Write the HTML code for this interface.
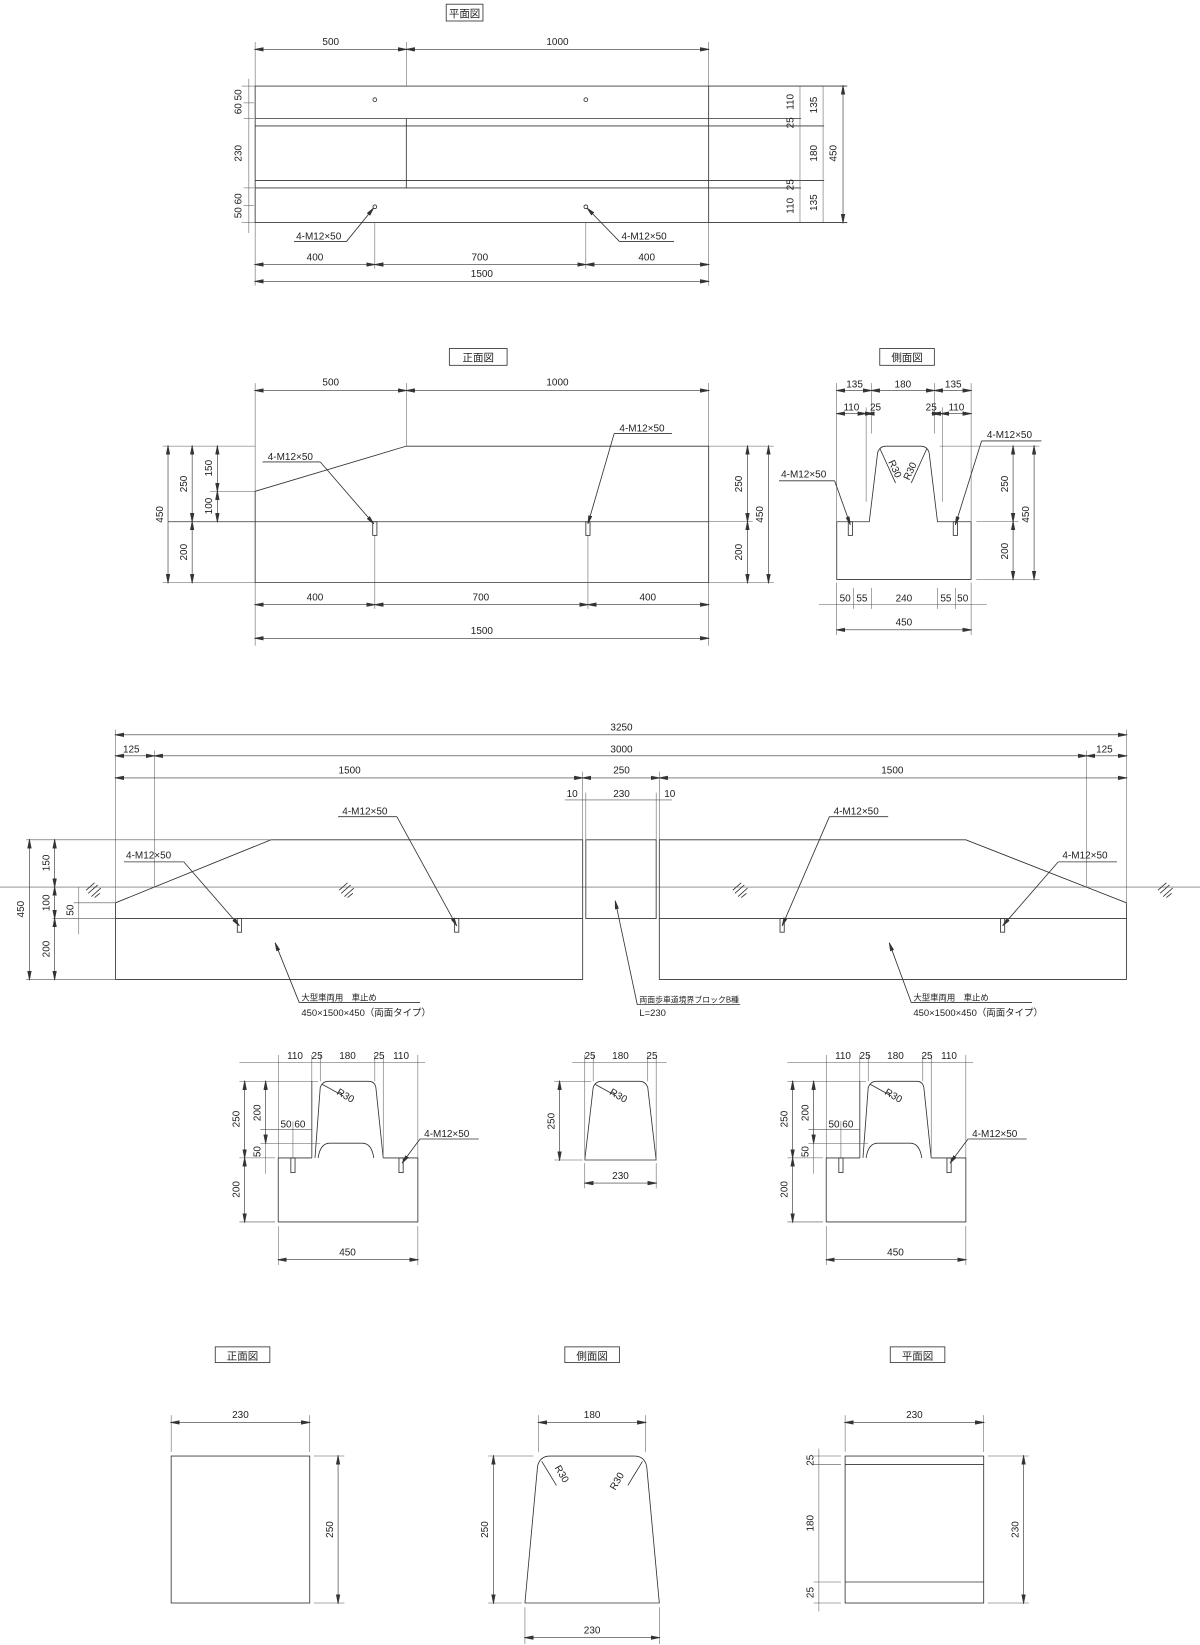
<!DOCTYPE html>
<html><head><meta charset="utf-8"><style>
html,body{margin:0;padding:0;background:#fff}
svg{display:block}
text{font-family:"Liberation Sans","Noto Sans CJK JP",sans-serif;font-size:9.5px;fill:#222}
.t{font-size:10px}
line,path,rect,polyline,circle{stroke:#333;stroke-width:0.8;fill:none}
.d{marker-start:url(#a);marker-end:url(#a);stroke-width:0.6}
.e{stroke-width:0.5;stroke:#555}
</style></head><body>
<svg width="1200" height="1645" viewBox="0 0 1143 1567" xmlns="http://www.w3.org/2000/svg">
<defs><marker id="a" viewBox="0 0 10 10" refX="9" refY="5" markerWidth="9" markerHeight="9" markerUnits="userSpaceOnUse" orient="auto-start-reverse"><path d="M0,3 L10,5 L0,7 Z" style="fill:#333;stroke:#333;stroke-width:0.5"/></marker>
<marker id="p" viewBox="0 0 10 10" refX="10" refY="5" markerWidth="8" markerHeight="8" markerUnits="userSpaceOnUse" orient="auto"><path d="M0,3 L10,5 L0,7 Z" style="fill:#333;stroke:#333"/></marker></defs>

<!-- ===== PLAN VIEW ===== -->
<rect x="425" y="4" width="35" height="16"/><text x="442.5" y="16" text-anchor="middle" class="t">平面図</text>
<rect x="243" y="82" width="432" height="130"/>
<line x1="675" y1="82" x2="807" y2="82"/><line x1="675" y1="212" x2="807" y2="212"/>
<line x1="243" y1="113" x2="763" y2="113"/><line x1="243" y1="120" x2="785" y2="120"/>
<line x1="243" y1="172" x2="785" y2="172"/><line x1="243" y1="179" x2="763" y2="179"/>
<line x1="387" y1="113" x2="387" y2="179"/>
<line class="e" x1="243" y1="40" x2="243" y2="82"/><line class="e" x1="387" y1="40" x2="387" y2="82"/><line class="e" x1="675" y1="40" x2="675" y2="82"/>
<line class="d" x1="243" y1="47" x2="387" y2="47"/><line class="d" x1="387" y1="47" x2="675" y2="47"/>
<text x="315" y="43" text-anchor="middle">500</text><text x="531" y="43" text-anchor="middle">1000</text>
<circle cx="357" cy="95" r="1.8"/><circle cx="558" cy="95" r="1.8"/><circle cx="357" cy="197" r="1.8"/><circle cx="558" cy="197" r="1.8"/>
<line x1="280" y1="230" x2="330" y2="230"/><line x1="330" y1="230" x2="356" y2="198" style="marker-end:url(#p)"/><text x="282" y="228">4-M12×50</text>
<line x1="590" y1="230" x2="642" y2="230"/><line x1="590" y1="230" x2="559" y2="198" style="marker-end:url(#p)"/><text x="592" y="228">4-M12×50</text>
<line class="e" x1="243" y1="212" x2="243" y2="272"/><line class="e" x1="357" y1="212" x2="357" y2="256"/><line class="e" x1="558" y1="212" x2="558" y2="256"/><line class="e" x1="675" y1="212" x2="675" y2="272"/>
<line class="d" x1="243" y1="252" x2="357" y2="252"/><line class="d" x1="357" y1="252" x2="558" y2="252"/><line class="d" x1="558" y1="252" x2="675" y2="252"/>
<text x="300" y="248" text-anchor="middle">400</text><text x="457" y="248" text-anchor="middle">700</text><text x="616" y="248" text-anchor="middle">400</text>
<line class="d" x1="243" y1="268" x2="675" y2="268"/><text x="459" y="264" text-anchor="middle">1500</text>
<line class="e" x1="237" y1="75" x2="237" y2="222"/>
<line class="e" x1="230" y1="82" x2="243" y2="82"/><line class="e" x1="230" y1="212" x2="243" y2="212"/><line class="e" x1="232" y1="98" x2="242" y2="98"/><line class="e" x1="232" y1="113" x2="242" y2="113"/><line class="e" x1="232" y1="179" x2="242" y2="179"/><line class="e" x1="232" y1="196" x2="242" y2="196"/>
<text transform="rotate(-90 230 97)" x="230" y="97" text-anchor="middle">60 50</text>
<text transform="rotate(-90 230 146)" x="230" y="146" text-anchor="middle">230</text>
<text transform="rotate(-90 230 196)" x="230" y="196" text-anchor="middle">50 60</text>
<line class="e" x1="762" y1="82" x2="762" y2="212"/><line class="e" x1="784" y1="82" x2="784" y2="212"/><line class="d" x1="803" y1="82" x2="803" y2="212"/>
<text transform="rotate(-90 756 97)" x="756" y="97" text-anchor="middle">110</text>
<text transform="rotate(-90 756 117)" x="756" y="117" text-anchor="middle">25</text>
<text transform="rotate(-90 756 176)" x="756" y="176" text-anchor="middle">25</text>
<text transform="rotate(-90 756 196)" x="756" y="196" text-anchor="middle">110</text>
<text transform="rotate(-90 778 100)" x="778" y="100" text-anchor="middle">135</text>
<text transform="rotate(-90 778 146)" x="778" y="146" text-anchor="middle">180</text>
<text transform="rotate(-90 778 193)" x="778" y="193" text-anchor="middle">135</text>
<text transform="rotate(-90 797 146)" x="797" y="146" text-anchor="middle">450</text>

<!-- ===== FRONT VIEW ===== -->
<rect x="428" y="332" width="55" height="16"/><text x="455.5" y="344" text-anchor="middle" class="t">正面図</text>
<path d="M243,468 L387,425 L675,425 L675,555 L243,555 Z"/>
<line x1="160" y1="497" x2="675" y2="497"/>
<line class="e" x1="155" y1="425" x2="243" y2="425"/><line class="e" x1="200" y1="468" x2="243" y2="468"/><line class="e" x1="155" y1="555" x2="243" y2="555"/>
<line class="e" x1="243" y1="365" x2="243" y2="468"/><line class="e" x1="387" y1="365" x2="387" y2="425"/><line class="e" x1="675" y1="365" x2="675" y2="425"/>
<line class="d" x1="243" y1="372" x2="387" y2="372"/><line class="d" x1="387" y1="372" x2="675" y2="372"/>
<text x="315" y="367" text-anchor="middle">500</text><text x="531" y="367" text-anchor="middle">1000</text>
<rect x="355" y="497" width="4" height="13"/><rect x="558" y="497" width="4" height="13"/>
<line x1="250" y1="440" x2="305" y2="440"/><line x1="305" y1="440" x2="356" y2="499" style="marker-end:url(#p)"/><text x="255" y="438">4-M12×50</text>
<line x1="585" y1="413" x2="640" y2="413"/><line x1="585" y1="413" x2="560" y2="499" style="marker-end:url(#p)"/><text x="590" y="411">4-M12×50</text>
<line class="d" x1="160" y1="425" x2="160" y2="555"/><line class="d" x1="183" y1="425" x2="183" y2="497"/><line class="d" x1="183" y1="497" x2="183" y2="555"/><line class="d" x1="207" y1="425" x2="207" y2="468"/><line class="d" x1="207" y1="468" x2="207" y2="497"/>
<text transform="rotate(-90 155 490)" x="155" y="490" text-anchor="middle">450</text>
<text transform="rotate(-90 178 461)" x="178" y="461" text-anchor="middle">250</text>
<text transform="rotate(-90 178 526)" x="178" y="526" text-anchor="middle">200</text>
<text transform="rotate(-90 202 446)" x="202" y="446" text-anchor="middle">150</text>
<text transform="rotate(-90 202 482)" x="202" y="482" text-anchor="middle">100</text>
<line class="e" x1="675" y1="425" x2="737" y2="425"/><line class="e" x1="675" y1="497" x2="717" y2="497"/><line class="e" x1="675" y1="555" x2="737" y2="555"/>
<line class="d" x1="712" y1="425" x2="712" y2="497"/><line class="d" x1="712" y1="497" x2="712" y2="555"/><line class="d" x1="732" y1="425" x2="732" y2="555"/>
<text transform="rotate(-90 707 461)" x="707" y="461" text-anchor="middle">250</text>
<text transform="rotate(-90 707 526)" x="707" y="526" text-anchor="middle">200</text>
<text transform="rotate(-90 727 490)" x="727" y="490" text-anchor="middle">450</text>
<line class="e" x1="243" y1="555" x2="243" y2="615"/><line class="e" x1="357" y1="510" x2="357" y2="580"/><line class="e" x1="560" y1="510" x2="560" y2="580"/><line class="e" x1="675" y1="555" x2="675" y2="615"/>
<line class="d" x1="243" y1="576" x2="357" y2="576"/><line class="d" x1="357" y1="576" x2="560" y2="576"/><line class="d" x1="560" y1="576" x2="675" y2="576"/>
<text x="300" y="572" text-anchor="middle">400</text><text x="458" y="572" text-anchor="middle">700</text><text x="617" y="572" text-anchor="middle">400</text>
<line class="d" x1="243" y1="608" x2="675" y2="608"/><text x="459" y="604" text-anchor="middle">1500</text>

<!-- ===== SIDE VIEW ===== -->
<rect x="838" y="332" width="52" height="16"/><text x="864" y="344" text-anchor="middle" class="t">側面図</text>
<path d="M797,497 L828,497 L836,431 Q838,425 844,425 L877,425 Q883,425 885,431 L893,497 L925,497 L925,552 L797,552 Z"/>
<line class="e" x1="797" y1="365" x2="797" y2="497"/><line class="e" x1="925" y1="365" x2="925" y2="497"/>
<line class="e" x1="825" y1="388" x2="825" y2="478"/><line class="e" x1="898" y1="388" x2="898" y2="478"/>
<line class="e" x1="830" y1="365" x2="830" y2="413"/><line class="e" x1="890" y1="365" x2="890" y2="413"/>
<line class="d" x1="797" y1="372" x2="830" y2="372"/><line class="d" x1="830" y1="372" x2="890" y2="372"/><line class="d" x1="890" y1="372" x2="925" y2="372"/>
<text x="814" y="369" text-anchor="middle">135</text><text x="860" y="369" text-anchor="middle">180</text><text x="908" y="369" text-anchor="middle">135</text>
<line class="d" x1="797" y1="394" x2="825" y2="394"/><line class="d" x1="825" y1="394" x2="832" y2="394"/><line class="d" x1="888" y1="394" x2="896" y2="394"/><line class="d" x1="896" y1="394" x2="925" y2="394"/>
<text x="811" y="391" text-anchor="middle">110</text><text x="834" y="391" text-anchor="middle">25</text><text x="887" y="391" text-anchor="middle">25</text><text x="911" y="391" text-anchor="middle">110</text>
<line x1="838" y1="427" x2="853" y2="460"/><line x1="883" y1="427" x2="868" y2="460"/>
<text transform="rotate(65 846 440)" x="846" y="440">R30</text><text transform="rotate(-65 866 458)" x="866" y="458">R30</text>
<rect x="808" y="497" width="4" height="13"/><rect x="908" y="497" width="4" height="13"/>
<line x1="742" y1="458" x2="795" y2="458"/><line x1="795" y1="458" x2="810" y2="500" style="marker-end:url(#p)"/><text x="744" y="455">4-M12×50</text>
<line x1="935" y1="420" x2="992" y2="420"/><line x1="935" y1="420" x2="910" y2="500" style="marker-end:url(#p)"/><text x="940" y="417">4-M12×50</text>
<line class="e" x1="895" y1="425" x2="990" y2="425"/><line class="e" x1="930" y1="497" x2="970" y2="497"/><line class="e" x1="930" y1="552" x2="990" y2="552"/>
<line class="d" x1="965" y1="425" x2="965" y2="497"/><line class="d" x1="965" y1="497" x2="965" y2="552"/><line class="d" x1="985" y1="425" x2="985" y2="552"/>
<text transform="rotate(-90 960 461)" x="960" y="461" text-anchor="middle">250</text>
<text transform="rotate(-90 960 525)" x="960" y="525" text-anchor="middle">200</text>
<text transform="rotate(-90 980 490)" x="980" y="490" text-anchor="middle">450</text>
<line class="e" x1="797" y1="555" x2="797" y2="605"/><line class="e" x1="813" y1="560" x2="813" y2="580"/><line class="e" x1="830" y1="560" x2="830" y2="580"/><line class="e" x1="893" y1="560" x2="893" y2="580"/><line class="e" x1="910" y1="560" x2="910" y2="580"/><line class="e" x1="925" y1="555" x2="925" y2="605"/>
<line class="e" x1="780" y1="576" x2="940" y2="576"/>
<text x="805" y="573" text-anchor="middle">50</text><text x="821" y="573" text-anchor="middle">55</text><text x="861" y="573" text-anchor="middle">240</text><text x="901" y="573" text-anchor="middle">55</text><text x="917" y="573" text-anchor="middle">50</text>
<line class="d" x1="797" y1="600" x2="925" y2="600"/><text x="861" y="596" text-anchor="middle">450</text>

<!-- ===== ASSEMBLY ===== -->
<line x1="0" y1="845" x2="1143" y2="845" style="stroke:#555;stroke-width:0.7"/>
<path d="M110,860 L258,800 L555,800 L555,933 L110,933 Z"/>
<line x1="110" y1="875" x2="555" y2="875"/>
<rect x="558" y="800" width="67" height="75"/>
<path d="M628,800 L920,800 L1073,860 L1073,933 L628,933 Z"/>
<line x1="628" y1="875" x2="1073" y2="875"/>
<g style="stroke:#444;stroke-width:0.6">
<path d="M82,848 l8,-7 M84,851 l9,-8 M87,854 l9,-8 M90,855 l5,-4"/>
<path d="M323,848 l8,-7 M325,851 l9,-8 M328,854 l9,-8 M331,855 l5,-4"/>
<path d="M698,848 l8,-7 M700,851 l9,-8 M703,854 l9,-8 M706,855 l5,-4"/>
<path d="M1103,848 l8,-7 M1105,851 l9,-8 M1108,854 l9,-8 M1111,855 l5,-4"/>
</g>
<line class="e" x1="110" y1="695" x2="110" y2="860"/><line class="e" x1="1073" y1="695" x2="1073" y2="860"/>
<line class="e" x1="147" y1="715" x2="147" y2="845"/><line class="e" x1="1035" y1="715" x2="1035" y2="845"/>
<line class="e" x1="555" y1="735" x2="555" y2="800"/><line class="e" x1="628" y1="735" x2="628" y2="800"/><line class="e" x1="558" y1="755" x2="558" y2="800"/><line class="e" x1="625" y1="755" x2="625" y2="800"/>
<line class="d" x1="110" y1="700" x2="1073" y2="700"/><text x="592" y="696" text-anchor="middle">3250</text>
<line class="d" x1="110" y1="720" x2="147" y2="720"/><line class="d" x1="147" y1="720" x2="1035" y2="720"/><line class="d" x1="1035" y1="720" x2="1073" y2="720"/>
<text x="125" y="717" text-anchor="middle">125</text><text x="592" y="717" text-anchor="middle">3000</text><text x="1052" y="717" text-anchor="middle">125</text>
<line class="d" x1="110" y1="741" x2="555" y2="741"/><line class="d" x1="555" y1="741" x2="628" y2="741"/><line class="d" x1="628" y1="741" x2="1073" y2="741"/>
<text x="333" y="737" text-anchor="middle">1500</text><text x="592" y="737" text-anchor="middle">250</text><text x="850" y="737" text-anchor="middle">1500</text>
<line class="e" x1="538" y1="762" x2="640" y2="762"/>
<text x="545" y="759" text-anchor="middle">10</text><text x="592" y="759" text-anchor="middle">230</text><text x="638" y="759" text-anchor="middle">10</text>
<line class="e" x1="25" y1="800" x2="258" y2="800"/><line class="e" x1="50" y1="875" x2="110" y2="875"/><line class="e" x1="25" y1="933" x2="110" y2="933"/><line class="e" x1="70" y1="860" x2="110" y2="860"/>
<line class="d" x1="28" y1="800" x2="28" y2="933"/>
<line class="d" x1="52" y1="800" x2="52" y2="845"/><line class="d" x1="52" y1="845" x2="52" y2="875"/><line class="d" x1="52" y1="875" x2="52" y2="933"/>
<line class="e" x1="75" y1="845" x2="75" y2="890"/>
<text transform="rotate(-90 23 866)" x="23" y="866" text-anchor="middle">450</text>
<text transform="rotate(-90 47 822)" x="47" y="822" text-anchor="middle">150</text>
<text transform="rotate(-90 47 860)" x="47" y="860" text-anchor="middle">100</text>
<text transform="rotate(-90 47 904)" x="47" y="904" text-anchor="middle">200</text>
<text transform="rotate(-90 70 867)" x="70" y="867" text-anchor="middle">50</text>
<rect x="226" y="875" width="4" height="13"/><rect x="433" y="875" width="4" height="13"/><rect x="743" y="875" width="4" height="13"/><rect x="953" y="875" width="4" height="13"/>
<line x1="118" y1="821" x2="175" y2="821"/><line x1="175" y1="821" x2="228" y2="882" style="marker-end:url(#p)"/><text x="120" y="818">4-M12×50</text>
<line x1="322" y1="778" x2="378" y2="778"/><line x1="378" y1="778" x2="435" y2="882" style="marker-end:url(#p)"/><text x="326" y="776">4-M12×50</text>
<line x1="790" y1="778" x2="846" y2="778"/><line x1="790" y1="778" x2="745" y2="882" style="marker-end:url(#p)"/><text x="794" y="776">4-M12×50</text>
<line x1="1008" y1="821" x2="1064" y2="821"/><line x1="1008" y1="821" x2="955" y2="882" style="marker-end:url(#p)"/><text x="1012" y="818">4-M12×50</text>
<line x1="285" y1="955" x2="262" y2="898" style="marker-end:url(#p)"/><line x1="285" y1="955" x2="400" y2="955"/>
<text x="287" y="953" style="font-size:8px">大型車両用　車止め</text><text x="287" y="968" style="font-size:9px">450×1500×450（両面タイプ）</text>
<line x1="607" y1="957" x2="586" y2="858" style="marker-end:url(#p)"/><line x1="607" y1="957" x2="705" y2="957"/>
<text x="609" y="955" style="font-size:7.5px">両面歩車道境界ブロックB種</text><text x="609" y="968" style="font-size:9px">L=230</text>
<line x1="868" y1="955" x2="847" y2="898" style="marker-end:url(#p)"/><line x1="868" y1="955" x2="983" y2="955"/>
<text x="870" y="953" style="font-size:8px">大型車両用　車止め</text><text x="870" y="968" style="font-size:9px">450×1500×450（両面タイプ）</text>

<!-- ===== SECTIONS ===== -->
<g id="sec">
<path d="M297,1103 L265,1103 L265,1164 L398,1164 L398,1103 L365,1103"/>
<path d="M300,1103 L305,1036 Q307,1030 313,1030 L351,1030 Q357,1030 358,1036 L365,1103"/>
<path d="M303,1103 Q305,1089 314,1089 L345,1089 Q354,1089 356,1103"/>
<line x1="297" y1="1030" x2="297" y2="1103"/>
<line class="e" x1="265" y1="1005" x2="265" y2="1103"/><line class="e" x1="297" y1="1005" x2="297" y2="1030"/><line class="e" x1="305" y1="1005" x2="305" y2="1030"/><line class="e" x1="357" y1="1005" x2="357" y2="1030"/><line class="e" x1="365" y1="1005" x2="365" y2="1103"/><line class="e" x1="398" y1="1005" x2="398" y2="1103"/>
<line class="e" x1="228" y1="1012" x2="405" y2="1012"/>
<text x="281" y="1009" text-anchor="middle">110</text><text x="302" y="1009" text-anchor="middle">25</text><text x="331" y="1009" text-anchor="middle">180</text><text x="361" y="1009" text-anchor="middle">25</text><text x="382" y="1009" text-anchor="middle">110</text>
<line class="e" x1="228" y1="1030" x2="303" y2="1030"/><line class="e" x1="228" y1="1103" x2="262" y2="1103"/><line class="e" x1="228" y1="1164" x2="262" y2="1164"/><line class="e" x1="248" y1="1089" x2="305" y2="1089"/><line class="e" x1="248" y1="1076" x2="297" y2="1076"/>
<line class="d" x1="233" y1="1030" x2="233" y2="1103"/><line class="d" x1="233" y1="1103" x2="233" y2="1164"/><line class="d" x1="253" y1="1030" x2="253" y2="1089"/><line class="e" x1="253" y1="1089" x2="253" y2="1118"/>
<line class="e" x1="279" y1="1068" x2="279" y2="1103"/>
<text transform="rotate(-90 228 1066)" x="228" y="1066" text-anchor="middle">250</text>
<text transform="rotate(-90 228 1133)" x="228" y="1133" text-anchor="middle">200</text>
<text transform="rotate(-90 248 1060)" x="248" y="1060" text-anchor="middle">200</text>
<text transform="rotate(-90 248 1097)" x="248" y="1097" text-anchor="middle">50</text>
<text x="279" y="1074" text-anchor="middle">50 60</text>
<line x1="307" y1="1033" x2="327" y2="1044"/><text transform="rotate(30 320 1042)" x="320" y="1042">R30</text>
<rect x="277" y="1103" width="4" height="14"/><rect x="380" y="1103" width="4" height="14"/>
<line x1="400" y1="1085" x2="456" y2="1085"/><line x1="400" y1="1085" x2="383" y2="1108" style="marker-end:url(#p)"/><text x="404" y="1083">4-M12×50</text>
<line class="e" x1="265" y1="1168" x2="265" y2="1205"/><line class="e" x1="398" y1="1168" x2="398" y2="1205"/>
<line class="d" x1="265" y1="1200" x2="398" y2="1200"/><text x="331" y="1196" text-anchor="middle">450</text>
</g>
<use href="#sec" transform="translate(522 0)"/>
<path d="M557,1105 L565,1036 Q567,1030 573,1030 L609,1030 Q615,1030 617,1036 L625,1105 Z"/>
<line class="e" x1="557" y1="1005" x2="557" y2="1105"/><line class="e" x1="565" y1="1005" x2="565" y2="1030"/><line class="e" x1="617" y1="1005" x2="617" y2="1030"/><line class="e" x1="625" y1="1005" x2="625" y2="1105"/>
<line class="e" x1="545" y1="1012" x2="635" y2="1012"/>
<text x="562" y="1009" text-anchor="middle">25</text><text x="591" y="1009" text-anchor="middle">180</text><text x="621" y="1009" text-anchor="middle">25</text>
<line class="e" x1="528" y1="1030" x2="563" y2="1030"/><line class="e" x1="528" y1="1105" x2="555" y2="1105"/>
<line class="d" x1="533" y1="1030" x2="533" y2="1105"/><text transform="rotate(-90 528 1068)" x="528" y="1068" text-anchor="middle">250</text>
<line x1="567" y1="1033" x2="587" y2="1044"/><text transform="rotate(30 580 1042)" x="580" y="1042">R30</text>
<line class="e" x1="557" y1="1108" x2="557" y2="1132"/><line class="e" x1="625" y1="1108" x2="625" y2="1132"/>
<line class="d" x1="557" y1="1127" x2="625" y2="1127"/><text x="591" y="1123" text-anchor="middle">230</text>

<!-- ===== BOTTOM ROW ===== -->
<rect x="205" y="1283" width="52" height="15"/><text x="231" y="1295" text-anchor="middle" class="t">正面図</text>
<rect x="538" y="1283" width="52" height="15"/><text x="564" y="1295" text-anchor="middle" class="t">側面図</text>
<rect x="848" y="1283" width="52" height="15"/><text x="874" y="1295" text-anchor="middle" class="t">平面図</text>
<rect x="163" y="1387" width="132" height="140"/>
<line class="e" x1="163" y1="1348" x2="163" y2="1383"/><line class="e" x1="295" y1="1348" x2="295" y2="1383"/>
<line class="d" x1="163" y1="1355" x2="295" y2="1355"/><text x="229" y="1351" text-anchor="middle">230</text>
<line class="e" x1="299" y1="1387" x2="328" y2="1387"/><line class="e" x1="299" y1="1527" x2="328" y2="1527"/>
<line class="d" x1="322" y1="1387" x2="322" y2="1527"/><text transform="rotate(-90 317 1457)" x="317" y="1457" text-anchor="middle">250</text>
<path d="M500,1527 L512,1397 Q514,1387 524,1387 L604,1387 Q614,1387 616,1397 L628,1527 Z"/>
<line class="e" x1="513" y1="1348" x2="513" y2="1383"/><line class="e" x1="615" y1="1348" x2="615" y2="1383"/>
<line class="d" x1="513" y1="1355" x2="615" y2="1355"/><text x="564" y="1351" text-anchor="middle">180</text>
<line class="e" x1="465" y1="1387" x2="508" y2="1387"/><line class="e" x1="465" y1="1527" x2="497" y2="1527"/>
<line class="d" x1="470" y1="1387" x2="470" y2="1527"/><text transform="rotate(-90 465 1457)" x="465" y="1457" text-anchor="middle">250</text>
<line x1="516" y1="1392" x2="530" y2="1415"/><line x1="612" y1="1392" x2="598" y2="1415"/>
<text transform="rotate(60 528 1398)" x="528" y="1398">R30</text><text transform="rotate(-60 586 1420)" x="586" y="1420">R30</text>
<line class="e" x1="500" y1="1531" x2="500" y2="1566"/><line class="e" x1="628" y1="1531" x2="628" y2="1566"/>
<line class="d" x1="500" y1="1560" x2="628" y2="1560"/><text x="564" y="1556" text-anchor="middle">230</text>
<rect x="805" y="1387" width="132" height="140"/>
<line x1="805" y1="1395" x2="937" y2="1395"/><line x1="805" y1="1507" x2="937" y2="1507"/>
<line class="e" x1="805" y1="1348" x2="805" y2="1383"/><line class="e" x1="937" y1="1348" x2="937" y2="1383"/>
<line class="d" x1="805" y1="1355" x2="937" y2="1355"/><text x="871" y="1351" text-anchor="middle">230</text>
<line class="e" x1="775" y1="1387" x2="801" y2="1387"/><line class="e" x1="775" y1="1395" x2="801" y2="1395"/><line class="e" x1="775" y1="1507" x2="801" y2="1507"/><line class="e" x1="775" y1="1527" x2="801" y2="1527"/>
<line class="e" x1="780" y1="1380" x2="780" y2="1535"/>
<text transform="rotate(-90 775 1391)" x="775" y="1391" text-anchor="middle">25</text>
<text transform="rotate(-90 775 1451)" x="775" y="1451" text-anchor="middle">180</text>
<text transform="rotate(-90 775 1517)" x="775" y="1517" text-anchor="middle">25</text>
<line class="e" x1="941" y1="1387" x2="980" y2="1387"/><line class="e" x1="941" y1="1527" x2="980" y2="1527"/>
<line class="d" x1="975" y1="1387" x2="975" y2="1527"/><text transform="rotate(-90 970 1457)" x="970" y="1457" text-anchor="middle">230</text>
</svg>
</body></html>
